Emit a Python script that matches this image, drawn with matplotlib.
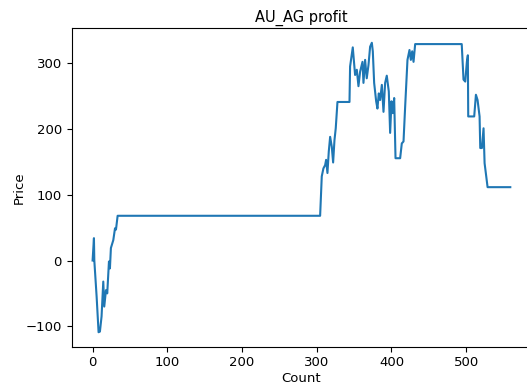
import numpy as np
import matplotlib.pyplot as plt

# vertices of the profit curve
count = [0, 1.8, 2.3, 5.4, 8, 9.8, 12, 14.3, 15.6, 17.9, 19.6, 21.9, 23.2, 24.5, 27.7,
         30, 31.3, 33.5,
         304.5, 306.7, 308.9, 311.2, 312.5, 314.3, 316.1, 317.9, 320.1, 321.9, 323.7,
         325.4, 327.7,
         343.8, 344.6, 348.2, 351.3, 353.6, 355.8, 358, 361.2, 362.5, 364.7, 366.9,
         369.2, 371.4, 373.7, 375, 376.8, 379.5, 381.2, 383, 384.8, 387.1, 389.3, 391.5,
         393.7, 396.4, 398.2, 400, 401.8, 403.6, 405.4,
         411.6, 413.8, 416.1, 418.3, 421.4, 424.1, 425.9, 427.7, 429.5, 431.7,
         494, 496.4, 498.7, 500.9, 502.2, 502.7, 510.7, 513, 515.2, 517.9, 518.8, 521,
         523.2, 524.6, 526.8, 528.6, 559]
profit = [0, 34, 0, -55, -109, -108, -85, -32, -70, -45, -50, -1.5, -12, 19, 31,
          49, 47, 68,
          68, 128, 140, 145, 153, 133, 166, 188, 173, 149, 183,
          201, 241,
          241, 295, 324, 282, 290, 265, 287, 302, 270, 305, 277,
          297, 325, 331, 318, 270, 242, 231, 254, 244, 267, 226, 270,
          281, 257, 194, 242, 224, 247, 155.5,
          155.5, 178, 181, 234, 305, 320, 305, 318, 302, 329,
          329, 275, 272, 302, 312, 219, 219, 252, 244, 219, 171, 171,
          201, 148, 128, 111.5, 111.5]

fig = plt.figure(figsize=(5.27, 3.85), dpi=100)
ax = fig.add_axes([0.136, 0.0995, 0.872, 0.827])
ax.plot(count, profit, color='#1f77b4', linewidth=1.5)
ax.set_xlim(-28, 587)
ax.set_ylim(-131, 353)
ax.set_xticks(np.arange(0, 501, 100))
ax.set_yticks(np.arange(-100, 301, 100))
ax.tick_params(labelsize=9.5)
ax.set_title('AU_AG profit', fontsize=10.5, pad=5)
ax.set_xlabel('Count', fontsize=9.5, labelpad=2)
ax.set_ylabel('Price', fontsize=9.5, labelpad=0)
fig.savefig('out.png', dpi=100)
